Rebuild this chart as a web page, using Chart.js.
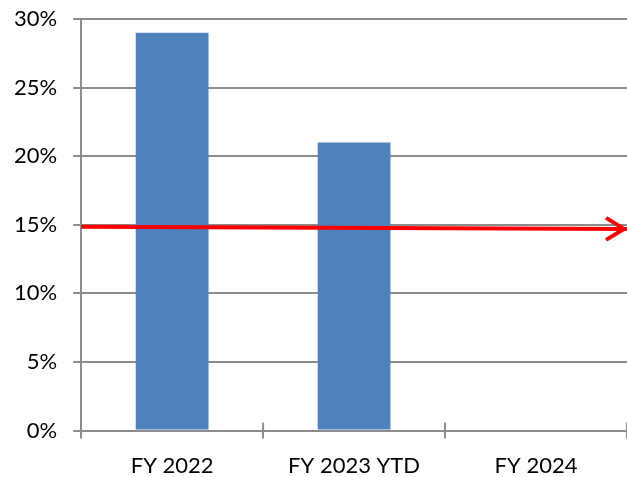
<!DOCTYPE html>
<html>
<head>
<meta charset="utf-8">
<script src="https://cdn.jsdelivr.net/npm/chart.js@4/dist/chart.umd.min.js"></script>
<style>
  body { margin: 0; background: #fff; }
  #wrap { width: 627px; height: 477px; }
</style>
</head>
<body>
<div id="wrap"><canvas id="myChart"></canvas></div>
<script>
// values
const categories = ['FY 2022', 'FY 2023 YTD', 'FY 2024'];
const values = [29, 21, null];
const yTicks = [0, 5, 10, 15, 20, 25, 30];
// red target arrow, start and end (x in category units)
const targetX = [0, 3];
const targetY = [14.85, 14.7];

const gridColor = '#8c8c8c';

// chevron head on the end of the red line
const arrowHead = {
  id: 'arrowHead',
  afterDatasetsDraw(chart) {
    const meta = chart.getDatasetMeta(1);
    const last = meta.data[meta.data.length - 1];
    if (!last) return;
    const c = chart.ctx;
    c.save();
    c.strokeStyle = '#ff0000';
    c.lineWidth = 4;
    c.lineJoin = 'miter';
    c.beginPath();
    c.moveTo(last.x - 21, last.y - 11);
    c.lineTo(last.x - 3, last.y);
    c.lineTo(last.x - 21, last.y + 11);
    c.stroke();
    c.restore();
  }
};

// little tick marks poking up into the plot at category borders
const innerTicks = {
  id: 'innerTicks',
  afterDraw(chart) {
    const xs = chart.scales.x;
    const c = chart.ctx;
    const bottom = chart.chartArea.bottom;
    c.save();
    c.strokeStyle = gridColor;
    c.lineWidth = 2;
    for (let i = 1; i <= categories.length; i++) {
      const px = xs.left + (xs.right - xs.left) * i / categories.length;
      c.beginPath();
      c.moveTo(px, bottom - 8);
      c.lineTo(px, bottom);
      c.stroke();
    }
    c.restore();
  }
};

let ctx = document.getElementById('myChart').getContext('2d');
new Chart(ctx, {
  type: 'bar',
  data: {
    labels: categories,
    datasets: [{
      label: 'value',
      data: values,
      backgroundColor: '#4f81bd',
      barPercentage: 0.4,
      categoryPercentage: 1,
      grouped: false,
      order: 2
    }, {
      type: 'line',
      label: 'target',
      xAxisID: 'x2',
      data: targetX.map((x, i) => ({ x: x, y: targetY[i] })),
      borderColor: '#ff0000',
      borderWidth: 4,
      pointRadius: 0,
      clip: false,
      order: 1
    }]
  },
  options: {
    responsive: true,
    maintainAspectRatio: false,
    animation: false,
    layout: { padding: { top: 0, left: -2, right: 0, bottom: -16 } },
    plugins: {
      legend: { display: false },
      tooltip: { enabled: false }
    },
    scales: {
      x: {
        offset: true,
        grid: {
          offset: true,
          drawOnChartArea: false,
          color: gridColor,
          lineWidth: 2,
          tickLength: 8
        },
        border: { color: gridColor, width: 2 },
        ticks: {
          color: '#000',
          padding: 14,
          font: { family: 'Lato', size: 22 }
        }
      },
      x2: {
        type: 'linear',
        display: false,
        offset: false,
        min: 0,
        max: 3
      },
      y: {
        min: 0,
        max: 30,
        afterBuildTicks: axis => { axis.ticks = yTicks.map(v => ({ value: v })); },
        // tick padding also gets added above the top label, undo that
        afterFit: axis => { axis.paddingTop = 19; axis.paddingBottom = 0; },
        grid: {
          color: gridColor,
          lineWidth: 2,
          tickLength: 8
        },
        border: { color: gridColor, width: 2 },
        ticks: {
          color: '#000',
          padding: 16,
          font: { family: 'Lato', size: 22 },
          callback: v => v + '%'
        }
      }
    }
  },
  plugins: [arrowHead, innerTicks]
});
</script>
</body>
</html>
